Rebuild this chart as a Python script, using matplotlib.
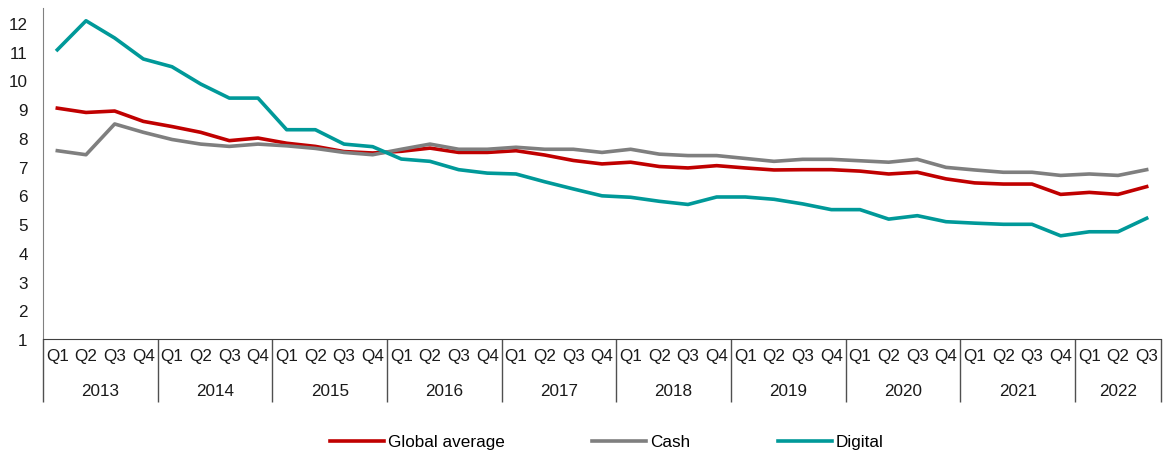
import numpy as np
import matplotlib
matplotlib.use('Agg')
import matplotlib.pyplot as plt
from matplotlib.ticker import FixedLocator

plt.rcParams['font.family'] = ['Liberation Sans', 'DejaVu Sans']

years = ['2013', '2014', '2015', '2016', '2017', '2018', '2019', '2020', '2021', '2022']
quarters = ['Q1', 'Q2', 'Q3', 'Q4'] * 9 + ['Q1', 'Q2', 'Q3']

global_avg = [9.03, 8.88, 8.93, 8.57, 8.39, 8.19, 7.90, 7.99, 7.81, 7.70, 7.52, 7.47,
              7.53, 7.64, 7.49, 7.49, 7.55, 7.40, 7.21, 7.09, 7.15, 7.00, 6.95, 7.03,
              6.95, 6.88, 6.89, 6.89, 6.84, 6.74, 6.80, 6.57, 6.43, 6.39, 6.39, 6.03,
              6.10, 6.03, 6.30]
cash = [7.55, 7.41, 8.48, 8.19, 7.94, 7.78, 7.70, 7.78, 7.72, 7.63, 7.49, 7.41,
        7.60, 7.78, 7.60, 7.60, 7.67, 7.60, 7.60, 7.49, 7.60, 7.43, 7.38, 7.38,
        7.28, 7.18, 7.25, 7.25, 7.20, 7.15, 7.25, 6.97, 6.88, 6.80, 6.80, 6.69,
        6.74, 6.69, 6.89]
digital = [11.06, 12.07, 11.47, 10.74, 10.47, 9.87, 9.38, 9.38, 8.28, 8.28, 7.78, 7.69,
           7.26, 7.18, 6.89, 6.77, 6.74, 6.47, 6.22, 5.98, 5.93, 5.79, 5.68, 5.94,
           5.94, 5.86, 5.70, 5.50, 5.50, 5.17, 5.29, 5.08, 5.03, 4.99, 4.99, 4.59,
           4.73, 4.73, 5.20]

x = np.arange(len(quarters))
fs = 12.3

fig = plt.figure(figsize=(11.63, 4.52), dpi=100)
ax = fig.add_axes([43 / 1163, 1 - 340 / 452, 1118 / 1163, 330.6 / 452])

ax.plot(x, global_avg, color='#C00000', lw=2.6, label='Global average')
ax.plot(x, cash, color='#7F7F7F', lw=2.6, label='Cash')
ax.plot(x, digital, color='#009999', lw=2.6, label='Digital')

ax.set_xlim(-0.5, len(quarters) - 0.5)
ax.set_ylim(1, 12.5)
ax.set_yticks(range(1, 13))
ax.tick_params(axis='y', length=0, pad=11, labelsize=fs, colors='#1a1a1a')

ax.set_xticks(x)
ax.set_xticklabels(quarters)
ax.tick_params(axis='x', which='major', length=0, pad=6.5, labelsize=fs, colors='#1a1a1a')

# year separators as long minor ticks
bounds = [-0.5] + [3.5 + 4 * i for i in range(9)] + [len(quarters) - 0.5]
ax.xaxis.set_minor_locator(FixedLocator(bounds))
ax.tick_params(axis='x', which='minor', length=45.5, width=1.0, color='#505050')

for i, yr in enumerate(years):
    lo = bounds[i]
    hi = bounds[i + 1]
    ax.text((lo + hi) / 2, -0.157, yr, transform=ax.get_xaxis_transform(),
            ha='center', va='center', fontsize=fs, color='#1a1a1a')

for s in ['top', 'right']:
    ax.spines[s].set_visible(False)
ax.spines['left'].set_color('#808080')
ax.spines['bottom'].set_color('#404040')

fig.legend(loc='center', bbox_to_anchor=(0.522, 1 - 443 / 452), ncol=3, frameon=False,
           fontsize=fs, handlelength=3.15, handletextpad=0.25, columnspacing=5.1)

fig.savefig('out.png', dpi=100)
